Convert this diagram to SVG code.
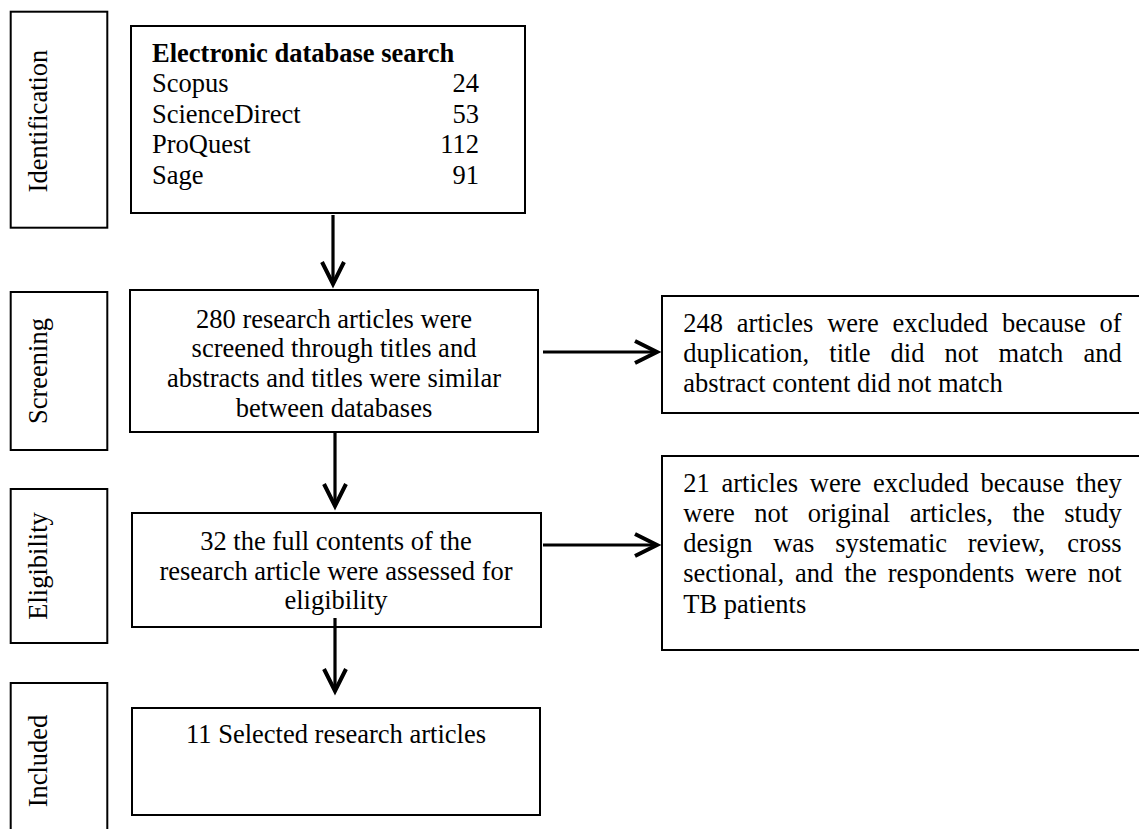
<svg xmlns="http://www.w3.org/2000/svg" width="1139" height="829" viewBox="0 0 1139 829">
<style>
text{font-family:"Liberation Serif","Times New Roman",serif;font-size:26.5px;fill:#000}
.b{font-weight:bold}
.box{fill:#fff;stroke:#000;stroke-width:2}
.c{text-anchor:middle}
.e{text-anchor:end}
.conn{stroke:#000;stroke-width:3.2;fill:none}
</style>
<defs>
<marker id="ah" viewBox="0 0 28 28" refX="24" refY="14" markerWidth="28" markerHeight="28" markerUnits="userSpaceOnUse" orient="auto" overflow="visible">
<path d="M2,3 L24,14 L2,25" fill="none" stroke="#000" stroke-width="4" stroke-linejoin="miter"/>
</marker>
</defs>
<rect width="1139" height="829" fill="#fff"/>

<g id="stage-identification">
<rect class="box" x="10.7" y="11.7" width="96.6" height="216"/>
<text class="c" transform="translate(47,121) rotate(-90)">Identification</text>
</g>
<g id="stage-screening">
<rect class="box" x="10.7" y="292" width="96.6" height="158"/>
<text class="c" transform="translate(47,371) rotate(-90)">Screening</text>
</g>
<g id="stage-eligibility">
<rect class="box" x="10.7" y="489" width="96.6" height="154"/>
<text class="c" transform="translate(47,566) rotate(-90)">Eligibility</text>
</g>
<g id="stage-included">
<rect class="box" x="10.7" y="683" width="96.6" height="160"/>
<text class="c" transform="translate(47,761) rotate(-90)">Included</text>
</g>

<g id="database-search">
<rect class="box" x="131" y="26" width="394" height="187"/>
<text class="b" x="152" y="62">Electronic database search</text>
<text x="152" y="92.4">Scopus</text>
<text x="152" y="122.8">ScienceDirect</text>
<text x="152" y="153.2">ProQuest</text>
<text x="152" y="183.6">Sage</text>
<text class="e" x="479" y="92.4">24</text>
<text class="e" x="479" y="122.8">53</text>
<text class="e" x="479" y="153.2">112</text>
<text class="e" x="479" y="183.6">91</text>
</g>

<g id="screened">
<rect class="box" x="130" y="290" width="408" height="142"/>
<text class="c" x="334" y="327.5">280 research articles were</text>
<text class="c" x="334" y="357">screened through titles and</text>
<text class="c" x="334" y="387">abstracts and titles were similar</text>
<text class="c" x="334" y="416.5">between databases</text>
</g>

<g id="excluded-screening">
<rect class="box" x="662" y="296" width="490" height="117"/>
<text y="331.7"><tspan x="683.3">248</tspan><tspan x="736.85">articles</tspan><tspan x="827.18">were</tspan><tspan x="892.47">excluded</tspan><tspan x="1001.94">because</tspan><tspan x="1099.61">of</tspan></text>
<text y="361.7"><tspan x="683.3">duplication,</tspan><tspan x="829.28">title</tspan><tspan x="890.61">did</tspan><tspan x="944.58">not</tspan><tspan x="998.55">match</tspan><tspan x="1083.42">and</tspan></text>
<text x="683.3" y="391.7">abstract content did not match</text>
</g>

<g id="eligibility-assessed">
<rect class="box" x="132" y="513" width="409" height="114"/>
<text class="c" x="336" y="550">32 the full contents of the</text>
<text class="c" x="336" y="580">research article were assessed for</text>
<text class="c" x="336" y="609">eligibility</text>
</g>

<g id="excluded-eligibility">
<rect class="box" x="662" y="456" width="490" height="194"/>
<text y="491.7"><tspan x="683.3">21</tspan><tspan x="721.54">articles</tspan><tspan x="809.81">were</tspan><tspan x="873.04">excluded</tspan><tspan x="980.45">because</tspan><tspan x="1076.06">they</tspan></text>
<text y="521.7"><tspan x="683.3">were</tspan><tspan x="754.32">not</tspan><tspan x="807.72">original</tspan><tspan x="909.69">articles,</tspan><tspan x="1012.38">the</tspan><tspan x="1064.29">study</tspan></text>
<text y="551.7"><tspan x="683.3">design</tspan><tspan x="773.22">was</tspan><tspan x="835.16">systematic</tspan><tspan x="967.77">review,</tspan><tspan x="1067.23">cross</tspan></text>
<text y="581.7"><tspan x="683.3">sectional,</tspan><tspan x="795.12">and</tspan><tspan x="844.38">the</tspan><tspan x="887.75">respondents</tspan><tspan x="1025.33">were</tspan><tspan x="1087.81">not</tspan></text>
<text x="683.3" y="612.7">TB patients</text>
</g>

<g id="included-articles">
<rect class="box" x="132" y="708" width="408" height="107"/>
<text class="c" x="336" y="743">11 Selected research articles</text>
</g>

<g id="connectors">
<line class="conn" x1="333" y1="215" x2="333" y2="284" marker-end="url(#ah)"/>
<line class="conn" x1="335" y1="433" x2="335" y2="506" marker-end="url(#ah)"/>
<line class="conn" x1="335" y1="618" x2="335" y2="691" marker-end="url(#ah)"/>
<line class="conn" x1="543" y1="352" x2="657" y2="352" marker-end="url(#ah)"/>
<line class="conn" x1="543" y1="545" x2="657" y2="545" marker-end="url(#ah)"/>
</g>
</svg>
